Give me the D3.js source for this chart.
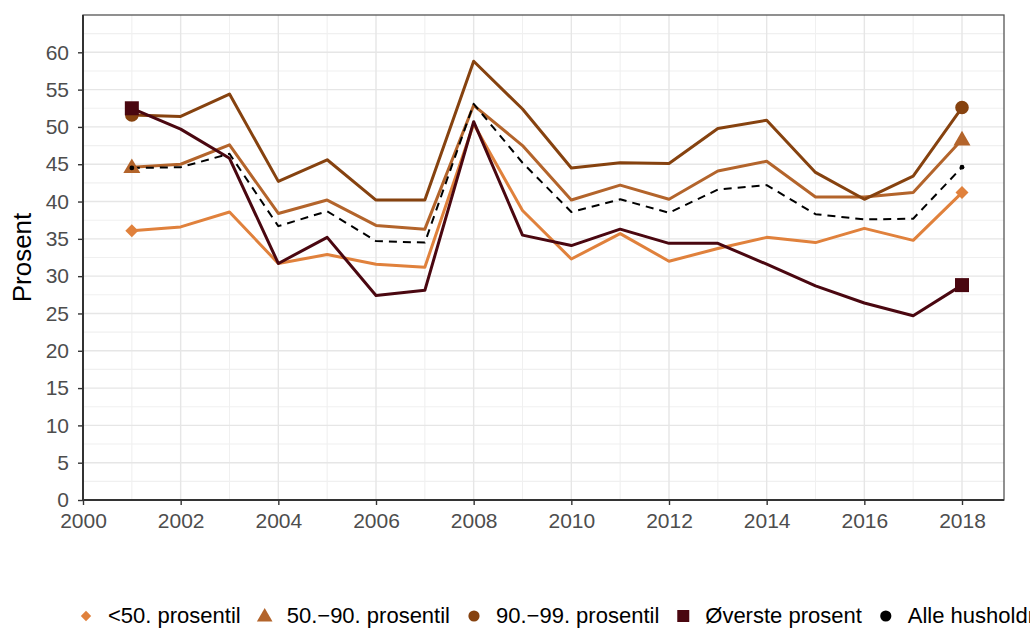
<!DOCTYPE html>
<html><head><meta charset="utf-8">
<script src="https://cdn.jsdelivr.net/npm/d3@7"></script>
<style>body{margin:0;background:#fff;overflow:hidden}svg{display:block;font-family:"Liberation Sans",Arial,sans-serif}</style>
</head><body><svg id="c" width="1030" height="628"></svg>
<script>
const years = [2001,2002,2003,2004,2005,2006,2007,2008,2009,2010,2011,2012,2013,2014,2015,2016,2017,2018];
const under50 = [36.1,36.6,38.6,31.7,32.9,31.6,31.2,50.4,38.8,32.3,35.7,32.0,33.7,35.2,34.5,36.4,34.8,41.2];
const p50to90 = [44.6,45.0,47.6,38.4,40.2,36.8,36.3,52.9,47.5,40.2,42.2,40.3,44.1,45.4,40.6,40.6,41.2,48.3];
const p90to99 = [51.6,51.4,54.4,42.7,45.6,40.2,40.2,58.8,52.4,44.5,45.2,45.1,49.8,50.9,43.9,40.3,43.4,52.6];
const top1 = [52.5,49.7,45.8,31.7,35.2,27.4,28.1,50.7,35.5,34.1,36.3,34.4,34.4,31.6,28.7,26.4,24.7,28.8];
const alle = [44.5,44.6,46.4,36.7,38.7,34.7,34.5,53.1,45.2,38.6,40.3,38.5,41.6,42.2,38.3,37.6,37.7,44.6];
const seriesNames = ["<50. prosentil","50.\u221290. prosentil","90.\u221299. prosentil","\u00d8verste prosent","Alle husholdninger"];
const yTicks = [0,5,10,15,20,25,30,35,40,45,50,55,60];
const xTicks = [2000,2002,2004,2006,2008,2010,2012,2014,2016,2018];

const series = [
  {name:seriesNames[0], values:under50, color:"#E0813C", shape:"diamond", dash:null, w:3},
  {name:seriesNames[1], values:p50to90, color:"#B3642B", shape:"triangle", dash:null, w:3},
  {name:seriesNames[2], values:p90to99, color:"#86420F", shape:"circle", dash:null, w:3},
  {name:seriesNames[3], values:top1, color:"#4A0710", shape:"square", dash:null, w:3},
  {name:seriesNames[4], values:alle, color:"#000000", shape:"dot", dash:"8,6", w:2}
];

const svg = d3.select("#c");
const L=83, R=1004, T=15, B=500;
const x = d3.scaleLinear().domain([2000, 2018.86]).range([L, R]);
const y = d3.scaleLinear().domain([0, 65]).range([B, T]);

// grid
const g = svg.append("g");
const minorY = d3.range(2.5, 65, 5);
const minorX = d3.range(2001, 2019, 2);
g.selectAll(".my").data(minorY).join("line").attr("x1",L).attr("x2",R).attr("y1",d=>y(d)).attr("y2",d=>y(d)).attr("stroke","#f0f0f0").attr("stroke-width",1.1);
g.selectAll(".mx").data(minorX).join("line").attr("y1",T).attr("y2",B).attr("x1",d=>x(d)).attr("x2",d=>x(d)).attr("stroke","#f0f0f0").attr("stroke-width",1.1);
g.selectAll(".Y").data(yTicks).join("line").attr("x1",L).attr("x2",R).attr("y1",d=>y(d)).attr("y2",d=>y(d)).attr("stroke","#e6e6e6").attr("stroke-width",1.4);
g.selectAll(".X").data(xTicks).join("line").attr("y1",T).attr("y2",B).attr("x1",d=>x(d)).attr("x2",d=>x(d)).attr("stroke","#e6e6e6").attr("stroke-width",1.4);

// panel border
svg.append("rect").attr("x",L).attr("y",T).attr("width",R-L).attr("height",B-T).attr("fill","none").attr("stroke","#555").attr("stroke-width",1.3);

// axes
const ya = svg.append("g").attr("transform",`translate(${L},0)`)
  .call(d3.axisLeft(y).tickValues(yTicks).tickSize(5).tickPadding(9).tickSizeOuter(0));
const xa = svg.append("g").attr("transform",`translate(0,${B})`)
  .call(d3.axisBottom(x).tickValues(xTicks).tickFormat(d3.format("d")).tickSize(5).tickPadding(8).tickSizeOuter(0));
[ya,xa].forEach(a=>{
  a.select(".domain").attr("stroke","#333").attr("stroke-width",2);
  a.selectAll(".tick line").attr("stroke","#333").attr("stroke-width",1.4);
  a.selectAll(".tick text").attr("fill","#4d4d4d").style("font-size","21px");
});
ya.select(".domain").attr("d",`M0,${T}V${B}`);
xa.select(".domain").attr("d",`M${L},0H${R}`);

svg.append("text").attr("transform",`translate(31,${(T+B)/2}) rotate(-90)`).attr("text-anchor","middle")
  .style("font-size","26px").attr("fill","#000").text("Prosent");

// lines
const line = d3.line().x((d,i)=>x(years[i])).y(d=>y(d));
series.forEach(s=>{
  svg.append("path").datum(s.values).attr("d",line).attr("fill","none").attr("stroke",s.color)
    .attr("stroke-width",s.w).attr("stroke-linejoin","round").attr("stroke-dasharray",s.dash);
});

function shapePath(shape, sz){
  switch(shape){
    case "diamond": return `M0,${-sz}L${sz},0L0,${sz}L${-sz},0Z`;
    case "triangle": { const h=sz*0.866*2; return `M0,${-h*0.6}L${sz},${h*0.4}L${-sz},${h*0.4}Z`; }
    case "square": return `M${-sz},${-sz}H${sz}V${sz}H${-sz}Z`;
    default: return d3.symbol().type(d3.symbolCircle).size(Math.PI*sz*sz)();
  }
}
const plotSize = {diamond:6.5, triangle:8.5, circle:6.8, square:7, dot:2.4};
series.forEach(s=>{
  const ends=[0, years.length-1];
  svg.selectAll(null).data(ends).join("path")
    .attr("transform",i=>`translate(${x(years[i])},${y(s.values[i])})`)
    .attr("d",shapePath(s.shape==="dot"?"circle":s.shape, plotSize[s.shape])).attr("fill",s.color);
});

// legend
const legSize = {diamond:5.2, triangle:7.8, circle:5.6, square:6, dot:5.6};
let lx = 86;
const ly = 616;
series.forEach(s=>{
  svg.append("path").attr("transform",`translate(${lx},${ly})`)
    .attr("d",shapePath(s.shape==="dot"?"circle":s.shape, legSize[s.shape])).attr("fill",s.color);
  const t = svg.append("text").attr("x",lx+22).attr("y",623).style("font-size","22px").attr("fill","#000").text(s.name);
  lx = lx + 22 + t.node().getComputedTextLength() + 24;
});
</script></body></html>
